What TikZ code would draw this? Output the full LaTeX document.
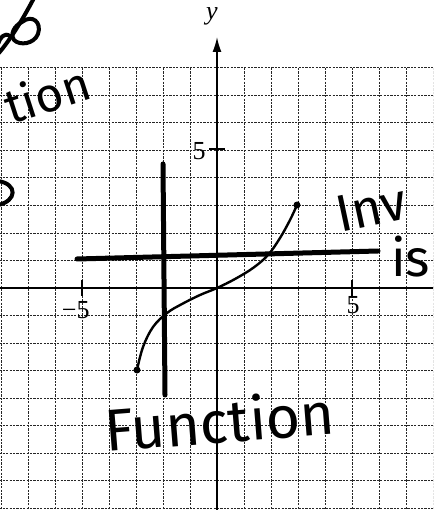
\documentclass[tikz,border=0pt]{standalone}
\usepackage{fontspec}
\setmainfont{Liberation Serif}
\newfontfamily\hand{Fira Sans}
\usetikzlibrary{arrows.meta}
\tikzset{
  gridline/.style={line width=1pt, black!85, dash pattern=on 2.2pt off 1.2pt},
  axisline/.style={line width=1.6pt, black},
  marker/.style={line width=5pt, black, line cap=round},
  pen/.style={line width=2.4pt, black, line cap=round},
  scrawl/.style={line width=4pt, black, line cap=round, line join=round},
  dotmark/.style={circle, fill=black, inner sep=0pt, minimum size=7pt},
  hw/.style={font=\hand\fontsize{52}{52}\selectfont, inner sep=0pt},
  lbl/.style={font=\fontsize{26}{26}\selectfont, inner sep=0pt}
}
\begin{document}
\begin{tikzpicture}[x=1pt,y=-1pt]
\useasboundingbox (0,0) rectangle (433,510);
\clip (0,0) rectangle (433,510);
\fill[white] (0,0) rectangle (433,510);
% grid
\foreach \i in {-8,...,8} {
  \draw[gridline] ({217+27*\i},68) -- ({217+27*\i},514);
  \draw[gridline] (-4,{288-27.5*\i}) -- (438,{288-27.5*\i});
}
% axes
\coordinate (xl) at (-4,288);
\coordinate (xr) at (438,288);
\coordinate (yb) at (217,514);
\coordinate (yt) at (217,37);
\draw[axisline] (xl) -- (xr);
\draw[axisline, -{Latex[length=15pt,width=9pt]}] (yb) -- (yt);
% ticks
\draw[axisline] (209,149) -- (225,149);
\draw[axisline] (82,280) -- (82,296);
\draw[axisline] (352,280) -- (352,296);
% labels
\node[lbl] (ylab) at (212,16) {\itshape y};
\node[lbl] (l5y) at (199,151) {5};
\node[lbl] (lm5) at (83,310) {\llap{−}5};
\node[lbl] (l5x) at (353,305) {5};
% handwritten lines
\coordinate (hl1) at (77,259);
\coordinate (hl2) at (378,251);
\coordinate (vl1) at (163,164);
\coordinate (vl2) at (165,395);
\draw[marker] (hl1) -- (hl2);
\draw[marker] (vl1) -- (vl2);
% curve
\node[dotmark] (d1) at (137,370) {};
\node[dotmark] (d2) at (297,205) {};
\draw[pen] plot[smooth, tension=0.6] coordinates {(137,370) (143,347) (153,327) (167,313) (182,304) (200,295) (217,288) (235,279) (253,268) (268,255) (280,238) (290,220) (297,205)};
% handwritten words
\node[hw, font=\hand\fontsize{59}{59}\selectfont, rotate=4.5, anchor=base west] (fnb) at (106,452) {Function};
\node[hw, font=\hand\fontsize{48}{48}\selectfont, rotate=18, anchor=base east] (fnt) at (94,98) {tion};
\node[hw, rotate=12, anchor=base west] (inv) at (340,233) {Inv};
\node[hw, anchor=base west] (is) at (391,276) {is};
% scrawl fragments at the left edge
\draw[scrawl] (34,-2) .. controls (25,15) and (12,38) .. (-2,54);
\draw[scrawl] (22,22) .. controls (32,14) and (42,22) .. (38,34) .. controls (34,44) and (20,46) .. (14,40) .. controls (10,34) and (14,26) .. (22,22);
\draw[scrawl] (10,36) .. controls (4,32) and (0,38) .. (-2,44);
\draw[scrawl] (-2,181) .. controls (18,184) and (17,201) .. (-2,205);
\end{tikzpicture}
\end{document}
